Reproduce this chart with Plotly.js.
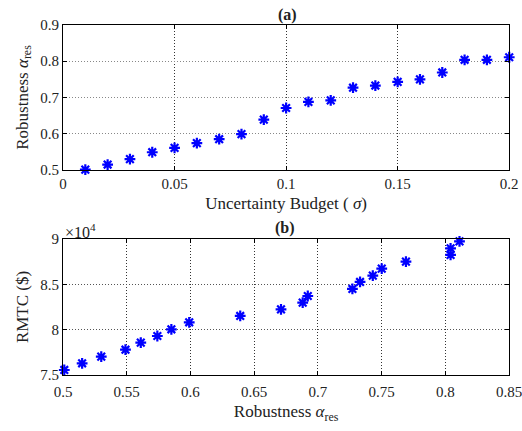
<!DOCTYPE html>
<html><head><meta charset="utf-8">
<script src="https://cdn.plot.ly/plotly-3.0.1.min.js"></script>
<style>html,body{margin:0;padding:0;background:#fff}</style>
</head><body><div id="chart" style="width:522px;height:431px"></div>
<script>
// (a) Uncertainty budget vs robustness
const sigma = [0.01,0.02,0.03,0.04,0.05,0.06,0.07,0.08,0.09,0.10,0.11,0.12,0.13,0.14,0.15,0.16,0.17,0.18,0.19,0.20];
const robustness = [0.501,0.515,0.530,0.549,0.561,0.574,0.585,0.599,0.639,0.671,0.688,0.692,0.727,0.733,0.743,0.750,0.769,0.804,0.804,0.811];
// (b) RMTC ($) vs robustness
const rmtc = [75550,76290,77020,77790,78570,79300,80040,80810,81510,82240,82980,83710,84490,85260,85960,86730,87500,88240,88970,89740];
const xTicksA = [0,0.05,0.1,0.15,0.2];
const xTickTextA = ['0','0.05','0.1','0.15','0.2'];
const yTicksA = [0.5,0.6,0.7,0.8,0.9];
const yTickTextA = ['0.5','0.6','0.7','0.8','0.9'];
const xTicksB = [0.5,0.55,0.6,0.65,0.7,0.75,0.8,0.85];
const xTickTextB = ['0.5','0.55','0.6','0.65','0.7','0.75','0.8','0.85'];
const yTicksB = [75000,80000,85000,90000];
const yTickTextB = ['7.5','8','8.5','9'];

const fam = 'Liberation Serif, Times New Roman, serif';
const tickFont = {family:fam, size:15, color:'#222'};
const titleFont = {family:fam, size:17, color:'#222'};
const marker = {symbol:'asterisk-open', size:9, color:'#0000ff', line:{color:'#0000ff', width:2.2}};

const traces = [
  {x:sigma, y:robustness, type:'scatter', mode:'markers', marker:marker, xaxis:'x', yaxis:'y', cliponaxis:false, hoverinfo:'none'},
  {x:robustness, y:rmtc, type:'scatter', mode:'markers', marker:marker, xaxis:'x2', yaxis:'y2', cliponaxis:false, hoverinfo:'none'}
];
function ax(extra, gc){
  return Object.assign({showline:true, mirror:'ticks', linecolor:'#000', linewidth:1,
    ticks:'inside', ticklen:4, tickcolor:'#000', showgrid:true, gridcolor:gc, griddash:'1px,2px', gridwidth:1,
    zeroline:false, tickfont:tickFont, ticklabeloverflow:'allow'}, extra);
}
const layout = {
  width:522, height:431, margin:{l:0,r:0,t:0,b:0}, showlegend:false,
  paper_bgcolor:'#fff', plot_bgcolor:'#fff', font:tickFont,
  xaxis: ax({domain:[0.1207,0.9755], anchor:'y', range:[0,0.2], tickvals:xTicksA, ticktext:xTickTextA,
    title:{text:'Uncertainty Budget ( <i>σ</i>)', font:titleFont, standoff:6}}, '#333'),
  yaxis: ax({domain:[0.6056,0.942], anchor:'x', range:[0.5,0.9], tickvals:yTicksA, ticktext:yTickTextA,
    title:{text:'Robustness <i>α</i><sub>res</sub>', font:titleFont, standoff:7}}, '#888'),
  xaxis2: ax({domain:[0.1207,0.9755], anchor:'y2', range:[0.5,0.85], tickvals:xTicksB, ticktext:xTickTextB, ticklabelstandoff:3,
    title:{text:'Robustness <i>α</i><sub>res</sub>', font:titleFont, standoff:6}}, '#333'),
  yaxis2: ax({domain:[0.130,0.4455], anchor:'x2', range:[75000,90000], tickvals:yTicksB, ticktext:yTickTextB,
    title:{text:'RMTC ($)', font:titleFont, standoff:7}}, '#555'),
  annotations:[
    {text:'<b>(a)</b>', xref:'paper', yref:'paper', x:287/522, y:1-15/431, showarrow:false, font:{family:fam, size:16, color:'#222'}, xanchor:'center', yanchor:'middle'},
    {text:'<b>(b)</b>', xref:'paper', yref:'paper', x:285/522, y:1-228/431, showarrow:false, font:{family:fam, size:16, color:'#222'}, xanchor:'center', yanchor:'middle'},
    {text:'×10<sup>4</sup>', xref:'paper', yref:'paper', x:63/522, y:1-231/431, showarrow:false, font:{family:fam, size:16, color:'#222'}, xanchor:'left', yanchor:'middle'}
  ]
};
Plotly.newPlot('chart', traces, layout, {staticPlot:true, displayModeBar:false});
</script></body></html>
